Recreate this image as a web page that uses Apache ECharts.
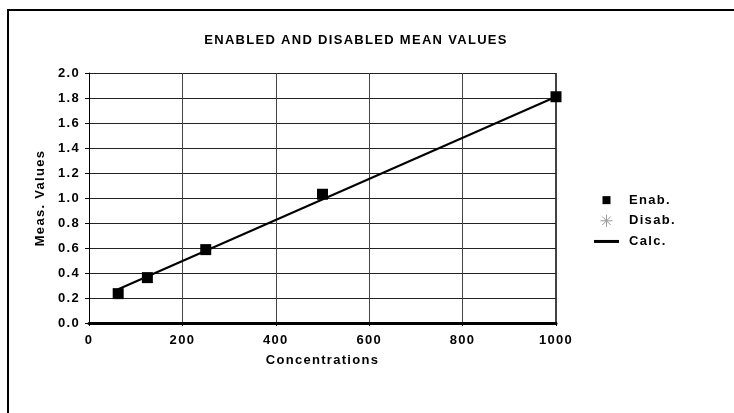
<!DOCTYPE html>
<html><head><meta charset="utf-8">
<script src="https://cdn.jsdelivr.net/npm/echarts@6/dist/echarts.min.js"></script>
<style>html,body{margin:0;padding:0;background:#fff}#c{width:734px;height:413px}</style>
</head><body><div id="c"></div>
<script>
const titleText = 'ENABLED AND DISABLED MEAN VALUES';
const enabX = [62.5, 125, 250, 500, 1000];
const enabY = [0.235, 0.363, 0.587, 1.03, 1.81];
const disabX = [];
const disabY = [];
const calcX = [62.5, 1000];
const calcY = [0.27, 1.81];
const seriesNames = ['Enab.', 'Disab.', 'Calc.'];
const xName = 'Concentrations';
const yName = 'Meas. Values';

// widen glyph spacing like the original metafile rendering
(function () {
  const P = CanvasRenderingContext2D.prototype;
  const d = Object.getOwnPropertyDescriptor(P, 'font');
  if (d && 'letterSpacing' in P) {
    Object.defineProperty(P, 'font', {
      configurable: true,
      get() { return d.get.call(this); },
      set(v) { d.set.call(this, v); this.letterSpacing = '1.3px'; }
    });
  }
})();

const zip = (a, b) => a.map((v, i) => [v, b[i]]);
const font = 'Liberation Sans, Arial, sans-serif';
const txt = {fontSize: 13, fontWeight: 'bold', color: '#000', fontFamily: font};
const chart = echarts.init(document.getElementById('c'), null, {renderer: 'canvas'});
const star = 'path://M5,0 L5,10 M0,5 L10,5 M1.5,1.5 L8.5,8.5 M8.5,1.5 L1.5,8.5';
chart.setOption({
  animation: false,
  backgroundColor: '#fff',
  textStyle: {fontFamily: font},
  title: {text: titleText, left: 351, top: 28, textAlign: 'center', textStyle: txt},
  grid: {left: 89, right: 178, top: 73, bottom: 90, show: false},
  legend: {
    orient: 'vertical', left: 589, top: 188, itemGap: 5, itemWidth: 25, itemHeight: 12,
    textStyle: Object.assign({}, txt, {padding: [0, 0, 0, 5]}),
    data: [
      {name: seriesNames[0], icon: 'path://M0,0 M12,12 M2,2 L10,2 L10,10 L2,10 Z'},
      {name: seriesNames[1], icon: star, itemStyle: {color: 'none', borderColor: '#999', borderWidth: 1}},
      {name: seriesNames[2], icon: 'path://M0,0 L25,0 L25,3 L0,3 Z'}
    ]
  },
  xAxis: {
    type: 'value', min: 0, max: 1000, interval: 200,
    name: xName, nameLocation: 'middle', nameGap: 30, nameTextStyle: txt,
    axisLine: {lineStyle: {color: '#000', width: 3}},
    axisTick: {show: true, length: 3, lineStyle: {color: '#000'}},
    axisLabel: Object.assign({}, txt, {margin: 10, formatter: v => String(v)}),
    splitLine: {show: true, lineStyle: {color: '#444', width: 1}}
  },
  yAxis: {
    type: 'value', min: 0, max: 2, interval: 0.2,
    name: yName, nameLocation: 'middle', nameGap: 36, nameRotate: 90, nameTextStyle: txt,
    axisLine: {show: true, lineStyle: {color: '#000', width: 1}},
    axisTick: {show: true, length: 4, lineStyle: {color: '#000'}},
    axisLabel: Object.assign({}, txt, {margin: 9, formatter: v => v.toFixed(1)}),
    splitLine: {show: true, lineStyle: {color: '#222', width: 1}}
  },
  graphic: [
    {type: 'rect', shape: {x: 8, y: 10, width: 740, height: 420}, style: {fill: 'none', stroke: '#000', lineWidth: 2}, silent: true},
    {type: 'line', shape: {x1: 556, y1: 73, x2: 556, y2: 323}, style: {stroke: '#444', lineWidth: 2}, silent: true}
  ],
  series: [
    {name: seriesNames[0], type: 'scatter', data: zip(enabX, enabY), symbol: 'rect', symbolSize: 11,
      itemStyle: {color: '#000', opacity: 1}, z: 5},
    {name: seriesNames[1], type: 'scatter', data: zip(disabX, disabY), symbol: star, symbolSize: 10,
      itemStyle: {color: 'none', borderColor: '#999', borderWidth: 1, opacity: 1}},
    {name: seriesNames[2], type: 'line', data: zip(calcX, calcY), showSymbol: false, symbol: 'none',
      lineStyle: {color: '#000', width: 2}, itemStyle: {color: '#000'}, z: 4}
  ]
});
</script></body></html>
